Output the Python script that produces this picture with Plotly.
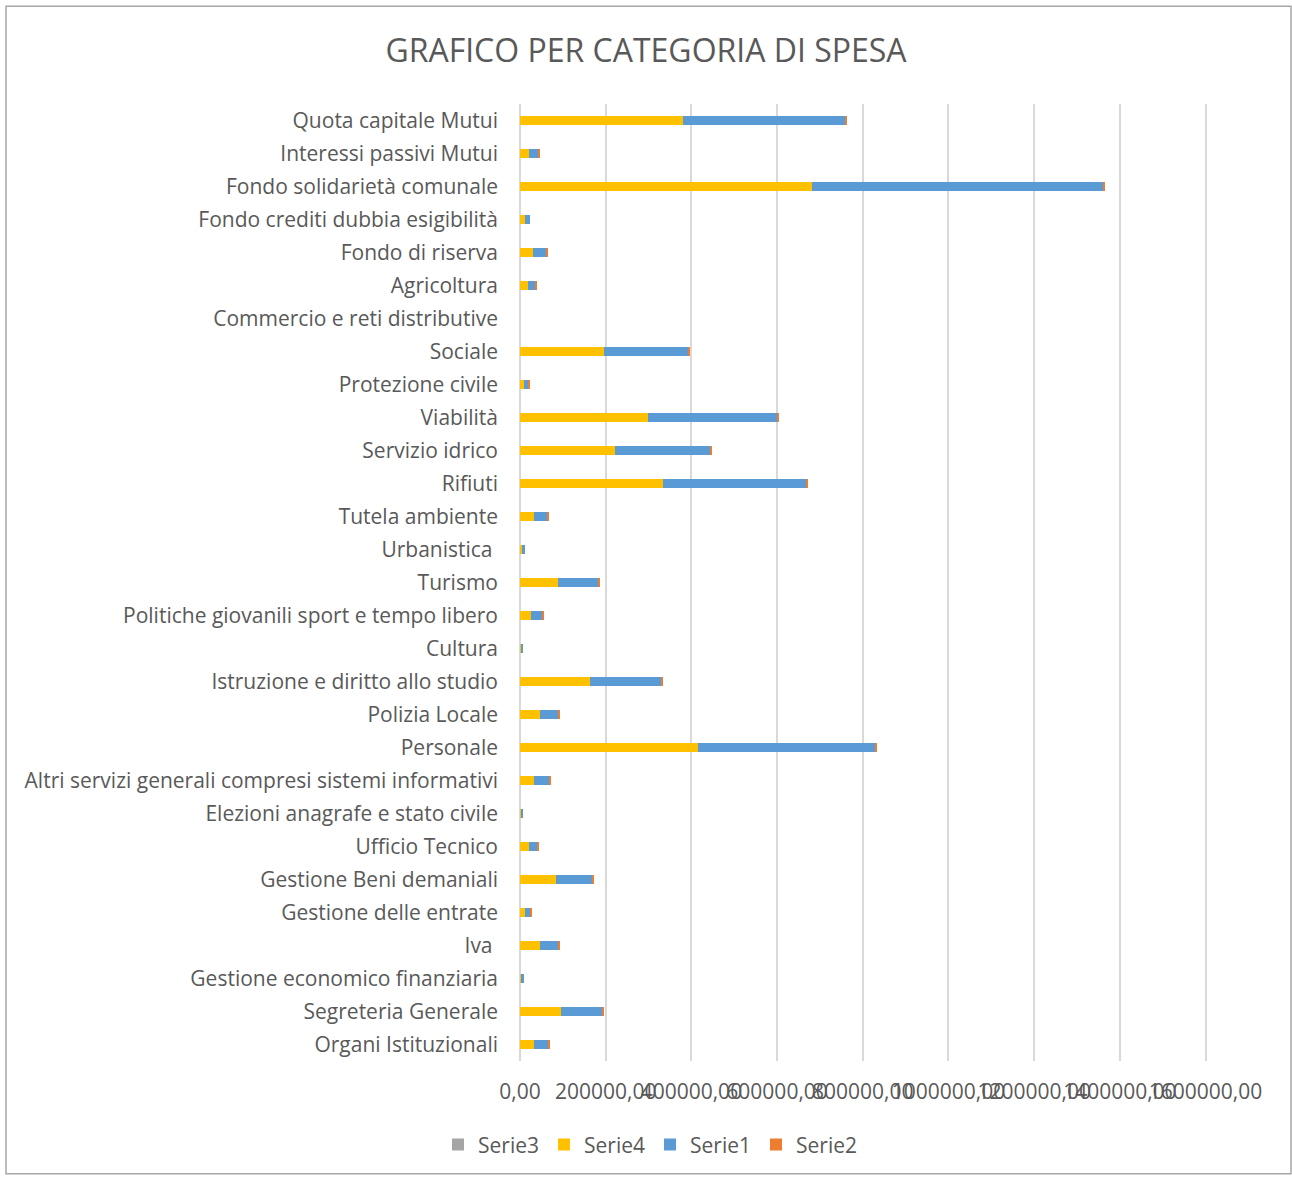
import plotly.graph_objects as go

# ---- data (bottom to top) ----
categories = [
    "Organi Istituzionali", "Segreteria Generale", "Gestione economico finanziaria", "Iva ",
    "Gestione delle entrate", "Gestione Beni demaniali", "Ufficio Tecnico",
    "Elezioni anagrafe e stato civile", "Altri servizi generali compresi sistemi informativi",
    "Personale", "Polizia Locale", "Istruzione e diritto allo studio", "Cultura",
    "Politiche giovanili sport e tempo libero", "Turismo", "Urbanistica ", "Tutela ambiente",
    "Rifiuti", "Servizio idrico", "Viabilità", "Protezione civile", "Sociale",
    "Commercio e reti distributive", "Agricoltura", "Fondo di riserva",
    "Fondo crediti dubbia esigibilità", "Fondo solidarietà comunale",
    "Interessi passivi Mutui", "Quota capitale Mutui",
]
serie3 = [0] * 29
serie4 = [33000, 96000, 3000, 45500, 12800, 83500, 22000, 3000, 33000, 415300, 45500,
          164300, 3000, 24500, 89700, 3500, 33000, 334500, 221000, 298800, 8900, 197000,
          0, 17500, 29900, 12800, 681100, 22100, 379500]
serie1 = [34000, 96300, 6000, 45000, 11700, 84800, 18000, 3500, 36500, 414900, 45000,
          165500, 3000, 27200, 93300, 7500, 30300, 334900, 224600, 302200, 10200, 197400,
          0, 19400, 31100, 10900, 681400, 20300, 380000]
serie2 = [2300, 2300, 0, 2300, 3000, 2300, 2300, 0, 2300, 2300, 2300,
          2300, 0, 2300, 3000, 0, 3000, 3000, 3000, 2300, 3000, 2300,
          0, 2300, 2300, 0, 2300, 2300, 2300]
tick_values = [0, 200000, 400000, 600000, 800000, 1000000, 1200000, 1400000, 1600000]
tick_labels = ["0,00", "200000,00", "400000,00", "600000,00", "800000,00",
               "1000000,00", "1200000,00", "1400000,00", "1600000,00"]

W, H = 1292, 1177
X_END = 1615000
ML, MT, MB = 520, 104, 114
PW = round(685.5 * X_END / 1600000)
MR = W - ML - PW
PH = H - MT - MB
FONT = "Open Sans"
TXT = "#595959"


def px_x(px):
    return (px - ML) / PW


def px_y(py):
    return (H - MB - py) / PH


fig = go.Figure()
for name, vals, col in [("Serie3", serie3, "#a5a5a5"), ("Serie4", serie4, "#ffc000"),
                        ("Serie1", serie1, "#5b9bd5"), ("Serie2", serie2, "#ed7d31")]:
    fig.add_trace(go.Bar(y=categories, x=vals, name=name, orientation="h",
                         marker=dict(color=col, line=dict(width=0))))

fig.update_layout(
    width=W, height=H,
    margin=dict(l=ML, r=MR, t=MT, b=MB, pad=0),
    barmode="stack", bargap=0.7,
    paper_bgcolor="white", plot_bgcolor="white",
    font=dict(family=FONT, color=TXT, size=21),
    title=dict(text="GRAFICO PER CATEGORIA DI SPESA", x=0.5, xanchor="center",
               xref="container", y=1 - 51 / H, yanchor="middle",
               font=dict(family=FONT, size=32, color=TXT)),
    xaxis=dict(range=[0, X_END], tickvals=tick_values, ticktext=tick_labels,
               tickangle=0, showgrid=True, gridcolor="#d9d9d9", gridwidth=2,
               zeroline=True, zerolinecolor="#d9d9d9", zerolinewidth=2,
               showline=False, ticks="", ticklabelstandoff=16,
               tickfont=dict(size=21, color=TXT, family=FONT), fixedrange=True),
    yaxis=dict(type="category", categoryorder="array", categoryarray=categories,
               showgrid=False, zeroline=False, showline=False, ticks="",
               ticklabelstandoff=21, tickfont=dict(size=21, color=TXT, family=FONT),
               range=[-0.5, len(categories) - 0.5]),
    legend=dict(orientation="h", x=px_x(650), xanchor="center", y=px_y(1147),
                yanchor="middle", font=dict(size=21, color=TXT, family=FONT),
                traceorder="normal", itemwidth=30),
    showlegend=True,
    shapes=[dict(type="rect", xref="paper", yref="paper",
                 x0=px_x(6), x1=px_x(1291), y0=px_y(1176), y1=px_y(6),
                 line=dict(color="#a6a6a6", width=1.5), fillcolor="rgba(0,0,0,0)",
                 layer="below")],
)

fig.write_html("out.html")
